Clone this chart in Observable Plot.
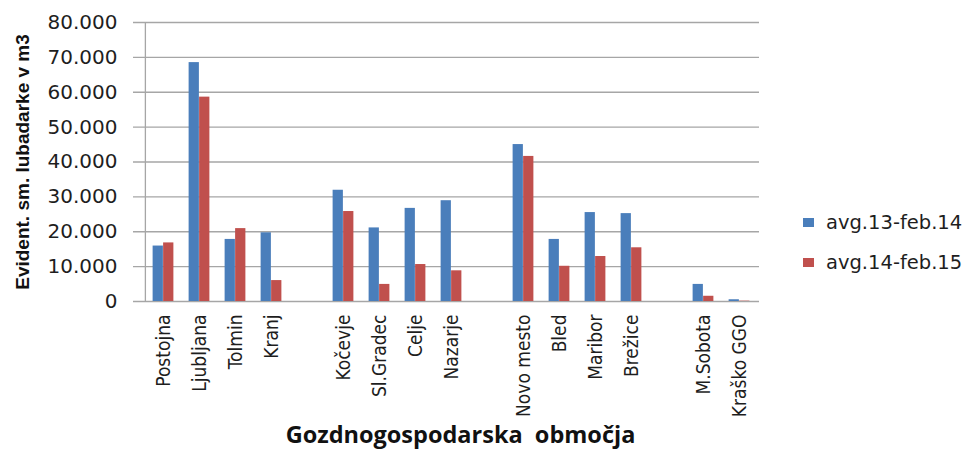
<!DOCTYPE html>
<html>
<head>
<meta charset="utf-8">
<script src="https://cdn.jsdelivr.net/npm/d3@7"></script>
<script src="https://cdn.jsdelivr.net/npm/@observablehq/plot@0.6"></script>
<style>
  body { margin: 0; background: #fff; }
  #chart { position: relative; width: 971px; height: 452px; }
  #chart svg text { white-space: pre; }
  g[aria-label="x-axis tick label"] text {
    font-family: "DejaVu Sans Condensed", "Liberation Sans", sans-serif;
    font-size: 19px;
  }
  g[aria-label="y-axis tick label"] text {
    font-family: "DejaVu Sans", sans-serif;
    font-size: 20px;
  }
  .legend {
    position: absolute; left: 803px; top: 202px;
    font-family: "DejaVu Sans", sans-serif; font-size: 19.5px; color: #1e1e1e;
  }
  .legend .row { display: flex; align-items: center; height: 40px; }
  .legend .sw { width: 11px; height: 9px; margin-right: 12px; }
</style>
</head>
<body>
<div id="chart"></div>
<script>
// Forest management areas, grouped as on the axis
const regions = [
  "Postojna", "Ljubljana", "Tolmin", "Kranj",
  "Kočevje", "Sl.Gradec", "Celje", "Nazarje",
  "Novo mesto", "Bled", "Maribor", "Brežice",
  "M.Sobota", "Kraško GGO"
];
// last region of each group (a blank slot follows it)
const groupEnds = ["Kranj", "Nazarje", "Brežice"];

const series = ["avg.13-feb.14", "avg.14-feb.15"];
const colors = ["#4a7ebb", "#c0504d"];

// recorded bark-beetle timber, m3
const values1314 = [15900, 68500, 17800, 19700, 31900, 21100, 26700, 28900, 45000, 17800, 25500, 25200, 4900, 500];
const values1415 = [16800, 58600, 20900, 6000, 25800, 4900, 10600, 8800, 41600, 10100, 12900, 15400, 1500, 100];

const yTicks = [0, 10000, 20000, 30000, 40000, 50000, 60000, 70000, 80000];
const yLabel = "Evident. sm. lubadarke v m3";
const xLabel = "Gozdnogospodarska  območja";

// band domain with blank spacer slots between groups
const domain = [];
regions.forEach(r => {
  domain.push(r);
  if (groupEnds.includes(r)) domain.push("gap:" + r);
});

const rows = regions.flatMap((r, i) => [
  {region: r, series: series[0], value: values1314[i]},
  {region: r, series: series[1], value: values1415[i]}
]);

const W = 971, H = 452;
const mL = 143, mR = 212, mT = 22, mB = 151;
const bw = (W - mL - mR) / domain.length;   // width of one category slot
const barW = 10.5;
const gridColor = "#a6a6a6";

const fmt = d => d === 0 ? "0" : d3.format(",")(d).replace(/,/g, ".");

const chart = Plot.plot({
  width: W,
  height: H,
  marginLeft: mL,
  marginRight: mR,
  marginTop: mT,
  marginBottom: mB,
  style: {background: "#fff", color: "#1e1e1e", fontFamily: "DejaVu Sans, sans-serif"},
  x: {type: "band", domain, padding: 0},
  y: {domain: [0, 80000]},
  color: {domain: series, range: colors},
  marks: [
    // horizontal gridlines, extended left as tick marks
    Plot.ruleY(yTicks, {stroke: gridColor, strokeWidth: 1.3, insetLeft: -10}),
    // vertical axis line
    Plot.ruleX([domain[0]], {x: d => d, dx: -bw / 2, y1: 0, y2: 80000, stroke: gridColor, strokeWidth: 1.3}),
    Plot.barY(rows.filter(d => d.series === series[0]), {
      x: "region", y: "value", fill: "series",
      insetLeft: bw / 2 - barW, insetRight: bw / 2
    }),
    Plot.barY(rows.filter(d => d.series === series[1]), {
      x: "region", y: "value", fill: "series",
      insetLeft: bw / 2, insetRight: bw / 2 - barW
    }),
    Plot.axisY({
      ticks: yTicks, tickSize: 0, tickPadding: 26, tickFormat: fmt,
      label: null, fill: "#1e1e1e"
    }),
    Plot.axisX({
      tickRotate: -90, tickSize: 0, tickPadding: 13, label: null,
      tickFormat: d => d.startsWith("gap:") ? "" : d, fill: "#1e1e1e"
    }),
    Plot.text([yLabel], {
      text: d => d, frameAnchor: "left", textAnchor: "middle", dx: -121, rotate: -90,
      fontFamily: "Liberation Sans, Arial, sans-serif", fontWeight: "bold", fontSize: 19, fill: "#111"
    }),
    Plot.text([xLabel], {
      text: d => d, frameAnchor: "bottom", lineAnchor: "middle", dy: 134, dx: 9,
      fontFamily: "Open Sans, sans-serif", fontWeight: "bold", fontSize: 23.5, fill: "#111",
      letterSpacing: 1.2
    })
  ]
});

const host = document.getElementById("chart");
host.appendChild(chart);

// legend on the right
const legend = document.createElement("div");
legend.className = "legend";
series.forEach((s, i) => {
  const row = document.createElement("div");
  row.className = "row";
  const sw = document.createElement("span");
  sw.className = "sw";
  sw.style.background = colors[i];
  const label = document.createElement("span");
  label.textContent = s;
  row.appendChild(sw);
  row.appendChild(label);
  legend.appendChild(row);
});
host.appendChild(legend);
</script>
</body>
</html>
